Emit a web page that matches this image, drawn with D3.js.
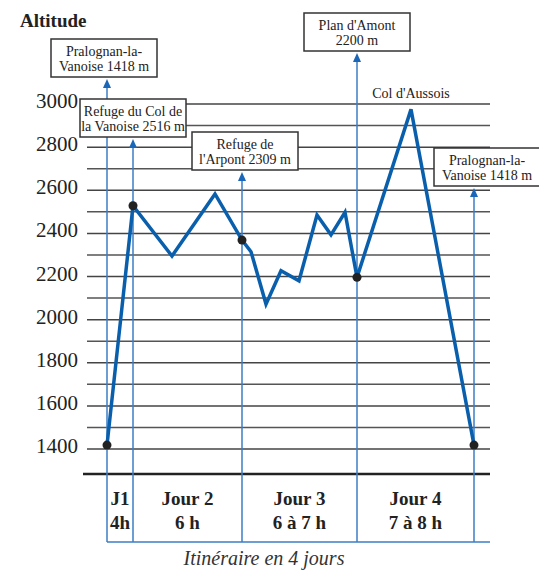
<!DOCTYPE html>
<html>
<head>
<meta charset="utf-8">
<script src="https://cdn.jsdelivr.net/npm/d3@7"></script>
<style>
  body { margin: 0; background: #fff; }
</style>
</head>
<body>
<div class="rep"></div>
<script>
// profile: distance along the route (arbitrary units) and altitude (m)
var profileDist = [0, 26, 65, 108, 135, 144, 159, 174, 192, 210, 224, 238, 250, 304, 367];
var profileAlt  = [1418, 2528, 2295, 2583, 2369, 2315, 2072, 2227, 2180, 2485, 2393, 2498, 2196, 2975, 1418];
var dotIndex = [0, 1, 4, 12, 14];

var yTicks = [1400, 1600, 1800, 2000, 2200, 2400, 2600, 2800, 3000];

// stops between the days
var stopDist = [0, 26, 135, 250, 367];
var stopLabels = [
    ["Pralognan-la-", "Vanoise 1418 m"],
    ["Refuge du Col de", "la Vanoise 2516 m"],
    ["Refuge de", "l'Arpont 2309 m"],
    ["Plan d'Amont", "2200 m"],
    ["Pralognan-la-", "Vanoise 1418 m"]
];

var dayNames = ["J1", "Jour 2", "Jour 3", "Jour 4"];
var dayTimes = ["4h", "6 h", "6 à 7 h", "7 à 8 h"];

var peakName = "Col d'Aussois";
var caption = "Itinéraire en 4 jours";

var serif = "'Liberation Serif', 'Times New Roman', 'DejaVu Serif', 'Noto Serif', serif";

function draw(width, height) {
    var svg = d3.select(".rep").append("svg")
        .attr("width", width)
        .attr("height", height)
        .attr("font-family", serif)
        .style("font-family", serif);

    var x = d3.scaleLinear().domain([0, 367]).range([107, 474]);
    var y = d3.scaleLinear().domain([1400, 3000]).range([449, 104]);

    var gridLeft = 87, gridRight = 490;
    var baseY = 474, boxBottom = 542;
    var blue = "#3b7dc4", lineBlue = "#0a5fad";

    // title
    svg.append("text")
        .attr("x", 20).attr("y", 27)
        .style("font-size", "19px").style("font-weight", "bold")
        .style("fill", "#222")
        .text("Altitude");

    // grid every 100 m
    svg.selectAll("line.grid")
        .data(d3.range(1400, 3001, 100))
        .enter().append("line")
        .attr("class", "grid")
        .attr("x1", gridLeft).attr("x2", gridRight)
        .attr("y1", function(d) { return y(d); })
        .attr("y2", function(d) { return y(d); })
        .style("stroke", function(d) { return d % 200 == 0 ? "#444" : "#555"; })
        .style("stroke-width", "1.5px");

    // y labels
    svg.selectAll("text.ytick")
        .data(yTicks)
        .enter().append("text")
        .attr("class", "ytick")
        .attr("x", 78)
        .attr("y", function(d) { return y(d) + 4; })
        .attr("text-anchor", "end")
        .style("font-size", "21px")
        .style("fill", "#222")
        .text(function(d) { return d; });

    // baseline
    svg.append("line")
        .attr("x1", 83).attr("x2", gridRight)
        .attr("y1", baseY).attr("y2", baseY)
        .style("stroke", "#222").style("stroke-width", "2.5px");

    // bottom blue line of the day table
    svg.append("line")
        .attr("x1", x(0)).attr("x2", gridRight)
        .attr("y1", boxBottom).attr("y2", boxBottom)
        .style("stroke", blue).style("stroke-width", "1.5px");

    // label boxes: centre offset and top of each box
    var boxLayout = [
        {dx: -3, top: 39},
        {dx: 0, top: 99},
        {dx: 3, top: 132},
        {dx: 0, top: 13},
        {dx: 13, top: 148}
    ];
    var boxW = 106, boxH = 38;

    stopDist.forEach(function(d, i) {
        var cx = x(d);
        var b = boxLayout[i];
        var tip = b.top + boxH + 2;
        svg.append("line")
            .attr("x1", cx).attr("x2", cx)
            .attr("y1", tip + 6).attr("y2", boxBottom)
            .style("stroke", blue).style("stroke-width", "1.5px");
        svg.append("path")
            .attr("d", "M" + cx + "," + tip + "L" + (cx - 4) + "," + (tip + 9) + "L" + (cx + 4) + "," + (tip + 9) + "Z")
            .style("fill", "#1a66b8");
        var bx = cx + b.dx - boxW / 2;
        svg.append("rect")
            .attr("x", bx).attr("y", b.top)
            .attr("width", boxW).attr("height", boxH)
            .style("fill", "white")
            .style("stroke", "#333")
            .style("stroke-width", "1.5px");
        stopLabels[i].forEach(function(t, j) {
            svg.append("text")
                .attr("x", cx + b.dx)
                .attr("y", b.top + 17 + j * 15)
                .attr("text-anchor", "middle")
                .style("font-size", "14px")
                .style("fill", "#222")
                .text(t);
        });
    });

    // day names
    for (k = 0; k < dayNames.length; k++) {
        var mid = (x(stopDist[k]) + x(stopDist[k + 1])) / 2;
        svg.append("text")
            .attr("x", mid).attr("y", 505)
            .attr("text-anchor", "middle")
            .style("font-size", "19px").style("font-weight", "bold")
            .style("fill", "#222")
            .text(dayNames[k]);
        svg.append("text")
            .attr("x", mid).attr("y", 529)
            .attr("text-anchor", "middle")
            .style("font-size", "19px").style("font-weight", "bold")
            .style("fill", "#222")
            .text(dayTimes[k]);
    }

    // peak label
    svg.append("text")
        .attr("x", x(profileDist[13]))
        .attr("y", y(3000) - 6)
        .attr("text-anchor", "middle")
        .style("font-size", "14px")
        .style("fill", "#222")
        .text(peakName);

    // profile
    var pts = profileDist.map(function(d, i) { return [d, profileAlt[i]]; });
    var line = d3.line()
        .x(function(d) { return x(d[0]); })
        .y(function(d) { return y(d[1]); });
    svg.append("path")
        .attr("d", line(pts))
        .style("fill", "none")
        .style("stroke", lineBlue)
        .style("stroke-width", "3.5px")
        .style("stroke-linejoin", "miter");

    svg.selectAll("circle.stop")
        .data(dotIndex)
        .enter().append("circle")
        .attr("class", "stop")
        .attr("cx", function(i) { return x(profileDist[i]); })
        .attr("cy", function(i) { return y(profileAlt[i]); })
        .attr("r", 4.5)
        .style("fill", "#222");

    // caption
    svg.append("text")
        .attr("x", 264).attr("y", 565)
        .attr("text-anchor", "middle")
        .style("font-size", "20px").style("font-style", "italic")
        .style("fill", "#333")
        .text(caption);
}

draw(539, 572);
</script>
</body>
</html>
